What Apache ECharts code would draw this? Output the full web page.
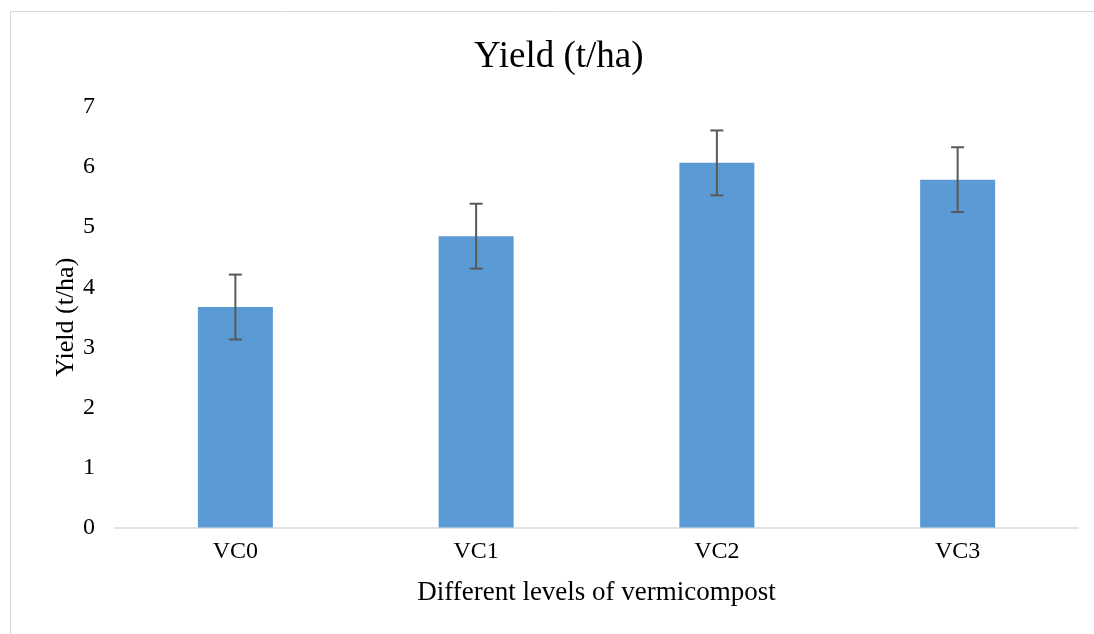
<!DOCTYPE html>
<html>
<head>
<meta charset="utf-8">
<script src="https://cdn.jsdelivr.net/npm/echarts@6/dist/echarts.min.js"></script>
<style>html,body{margin:0;padding:0;background:#fff}#c{width:1094px;height:634px}</style>
</head>
<body>
<div id="c"></div>
<script>
const categories = ['VC0', 'VC1', 'VC2', 'VC3'];
const yieldValues = [3.67, 4.85, 6.07, 5.79];
const errorValues = [0.54, 0.54, 0.54, 0.54];
const yTicks = [0, 1, 2, 3, 4, 5, 6, 7];

const font = '"Liberation Serif", "Times New Roman", serif';
const chart = echarts.init(document.getElementById('c'));
const errData = categories.map((c, i) => [i, yieldValues[i] - errorValues[i], yieldValues[i] + errorValues[i]]);

chart.setOption({
  animation: false,
  backgroundColor: '#fff',
  graphic: [{
    type: 'rect', shape: {x: 10.5, y: 11.5, width: 1100, height: 640},
    style: {fill: 'none', stroke: '#d9d9d9', lineWidth: 1}, silent: true, z: -1
  }],
  title: {
    text: 'Yield (t/ha)', left: 469, top: 34,
    textStyle: {fontFamily: font, fontSize: 37, fontWeight: 'normal', color: '#000'}
  },
  grid: {left: 115, right: 16, top: 107, bottom: 106.5, containLabel: false},
  xAxis: {
    type: 'category', data: categories,
    name: 'Different levels of vermicompost', nameLocation: 'middle', nameGap: 52,
    nameTextStyle: {fontFamily: font, fontSize: 27, color: '#000'},
    axisLine: {lineStyle: {color: '#d9d9d9', width: 1.5}},
    axisTick: {show: false},
    axisLabel: {fontFamily: font, fontSize: 24, color: '#000', margin: 12}
  },
  yAxis: {
    type: 'value', min: yTicks[0], max: yTicks[yTicks.length - 1], interval: 1,
    name: 'Yield (t/ha)', nameLocation: 'middle', nameGap: 36, nameMoveOverlap: false,
    nameTextStyle: {fontFamily: font, fontSize: 26, color: '#000'},
    axisLine: {show: false}, axisTick: {show: false}, splitLine: {show: false},
    axisLabel: {fontFamily: font, fontSize: 24, color: '#000', margin: 20}
  },
  series: [{
    type: 'bar', data: yieldValues, barWidth: 75,
    itemStyle: {color: '#5b9bd5'}
  }, {
    type: 'custom', data: errData, z: 10,
    renderItem: function (params, api) {
      const x = api.value(0);
      const lo = api.coord([x, api.value(1)]);
      const hi = api.coord([x, api.value(2)]);
      const hw = 6.5;
      const st = {stroke: '#595959', lineWidth: 2};
      return {type: 'group', children: [
        {type: 'line', shape: {x1: lo[0], y1: lo[1], x2: hi[0], y2: hi[1]}, style: st},
        {type: 'line', shape: {x1: lo[0] - hw, y1: lo[1], x2: lo[0] + hw, y2: lo[1]}, style: st},
        {type: 'line', shape: {x1: hi[0] - hw, y1: hi[1], x2: hi[0] + hw, y2: hi[1]}, style: st}
      ]};
    }
  }]
});
</script>
</body>
</html>
